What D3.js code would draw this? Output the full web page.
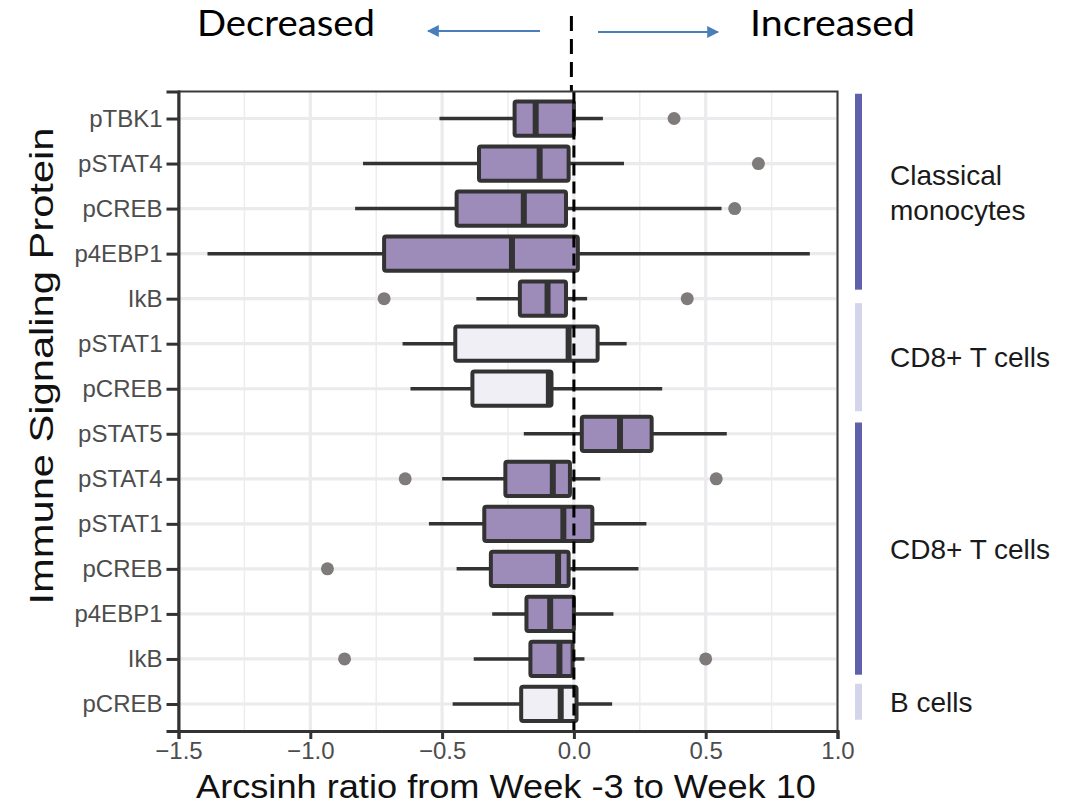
<!DOCTYPE html>
<html>
<head>
<meta charset="utf-8">
<script src="https://cdn.jsdelivr.net/npm/d3@7"></script>
<style>
  body { margin: 0; background: #fff; }
  svg { display: block; }
</style>
</head>
<body>
<div class="container"></div>
<script>
var w = 1071;
var h = 804;

// one entry per row, top to bottom
var proteins = ["pTBK1","pSTAT4","pCREB","p4EBP1","IkB","pSTAT1","pCREB","pSTAT5","pSTAT4","pSTAT1","pCREB","p4EBP1","IkB","pCREB"];
var lowWhisker  = [-0.51,-0.80,-0.83,-1.39,-0.37,-0.65,-0.62,-0.19,-0.50,-0.55,-0.445,-0.31,-0.38,-0.46];
var q1          = [-0.225,-0.36,-0.445,-0.72,-0.205,-0.45,-0.385,0.03,-0.26,-0.34,-0.315,-0.18,-0.165,-0.20];
var medians     = [-0.145,-0.13,-0.19,-0.235,-0.10,-0.02,-0.095,0.175,-0.08,-0.04,-0.06,-0.09,-0.055,-0.05];
var q3          = [0.0,-0.02,-0.03,0.015,-0.03,0.09,-0.085,0.295,-0.015,0.07,-0.02,0.0,-0.005,0.01];
var highWhisker = [0.11,0.19,0.56,0.895,0.05,0.20,0.335,0.58,0.10,0.275,0.245,0.15,0.04,0.145];
var outliers    = [[0.38],[0.70],[0.61],[],[-0.72,0.43],[],[],[],[-0.64,0.54],[],[-0.935],[],[-0.87,0.50],[]];
var lightRow    = [false,false,false,false,false,true,true,false,false,false,false,false,false,true];

var xTicks = [-1.5,-1.0,-0.5,0,0.5,1.0];
var xMinor = [-1.25,-0.75,-0.25,0.25,0.75];

// cell-type brackets on the right, spans in row units
var groupNames = [["Classical","monocytes"],["CD8+ T cells"],["CD8+ T cells"],["B cells"]];
var groupFrom  = [-0.55, 4.1, 6.75, 12.55];
var groupTo    = [3.8, 6.5, 12.35, 13.35];
var groupDark  = [true, false, true, false];

var rows = proteins.map(function(p, i){
  return {i: i, name: p, lo: lowWhisker[i], q1: q1[i], med: medians[i], q3: q3[i], hi: highWhisker[i], out: outliers[i], light: lightRow[i]};
});

var pLeft = 178.5, pRight = 837.5, pTop = 91.5, pBottom = 731;
var purple = "#9d8bb9", pale = "#f0eff6", ink = "#333333";
var sans = "Liberation Sans, Arial, sans-serif";

var x = d3.scaleLinear().domain([-1.5, 1.0]).range([pLeft, pRight]);
var y = d3.scalePoint().domain(d3.range(proteins.length)).range([pTop, pBottom]).padding(0.6);
var step = y.step();
var rowY = d3.scaleLinear().domain([0, 1]).range([y(0), y(1)]);
var boxH = step * 0.76;

var svg = d3.select(".container").append("svg").attr("width", w).attr("height", h);

// grid
var grid = svg.append("g");
grid.selectAll(".minor").data(xMinor).enter().append("line")
  .attr("x1", d => x(d)).attr("x2", d => x(d)).attr("y1", pTop).attr("y2", pBottom)
  .attr("stroke", "#ededf0").attr("stroke-width", 1.5);
grid.selectAll(".major").data(xTicks).enter().append("line")
  .attr("x1", d => x(d)).attr("x2", d => x(d)).attr("y1", pTop).attr("y2", pBottom)
  .attr("stroke", "#ebebee").attr("stroke-width", 3.2);
grid.selectAll(".hrow").data(rows).enter().append("line")
  .attr("x1", pLeft).attr("x2", pRight).attr("y1", d => y(d.i)).attr("y2", d => y(d.i))
  .attr("stroke", "#ebebee").attr("stroke-width", 3.2);

// boxplots
var box = svg.append("g").selectAll("g").data(rows).enter().append("g");
box.append("line")
  .attr("x1", d => x(d.lo)).attr("x2", d => x(d.q1)).attr("y1", d => y(d.i)).attr("y2", d => y(d.i))
  .attr("stroke", ink).attr("stroke-width", 3.5);
box.append("line")
  .attr("x1", d => x(d.q3)).attr("x2", d => x(d.hi)).attr("y1", d => y(d.i)).attr("y2", d => y(d.i))
  .attr("stroke", ink).attr("stroke-width", 3.5);
box.append("rect")
  .attr("x", d => x(d.q1)).attr("width", d => x(d.q3) - x(d.q1))
  .attr("y", d => y(d.i) - boxH / 2).attr("height", boxH)
  .attr("fill", d => d.light ? pale : purple)
  .attr("stroke", ink).attr("stroke-width", 4).attr("rx", 2);
box.append("line")
  .attr("x1", d => x(d.med)).attr("x2", d => x(d.med))
  .attr("y1", d => y(d.i) - boxH / 2).attr("y2", d => y(d.i) + boxH / 2)
  .attr("stroke", ink).attr("stroke-width", 6);
box.selectAll("circle").data(d => d.out.map(v => ({v: v, i: d.i}))).enter().append("circle")
  .attr("cx", d => x(d.v)).attr("cy", d => y(d.i)).attr("r", 6.5)
  .attr("fill", "#7f7b7b");

// zero line
svg.append("line")
  .attr("x1", x(0)).attr("x2", x(0)).attr("y1", pTop).attr("y2", pBottom)
  .attr("stroke", "#000").attr("stroke-width", 3).attr("stroke-dasharray", "12,6");
svg.append("line")
  .attr("x1", x(0) - 2.5).attr("x2", x(0) - 2.5).attr("y1", 16).attr("y2", pTop)
  .attr("stroke", "#000").attr("stroke-width", 3).attr("stroke-dasharray", "15,8");

// panel border
svg.append("rect").attr("x", pLeft).attr("y", pTop).attr("width", pRight - pLeft).attr("height", pBottom - pTop)
  .attr("fill", "none").attr("stroke", "#3a3a3a").attr("stroke-width", 2);

// axes
var xAxis = svg.append("g").attr("transform", "translate(0," + pBottom + ")")
  .call(d3.axisBottom(x).tickValues(xTicks).tickSize(8).tickPadding(3)
    .tickFormat(d => d3.format(".1f")(d).replace("-", "\u2212")));
var yAxis = svg.append("g").attr("transform", "translate(" + pLeft + ",0)")
  .call(d3.axisLeft(y).tickSize(12).tickPadding(4).tickFormat(i => proteins[i]));
[xAxis, yAxis].forEach(function(a){
  a.select(".domain").attr("stroke", ink).attr("stroke-width", 3);
  a.selectAll(".tick line").attr("stroke", ink).attr("stroke-width", 3);
  a.selectAll("text").attr("fill", "#4d4d4d").style("font-family", sans).style("font-size", "24px");
});

svg.append("text").attr("x", (pLeft + pRight) / 2 - 2).attr("y", 798).attr("text-anchor", "middle")
  .attr("textLength", 620).attr("lengthAdjust", "spacingAndGlyphs")
  .style("font-family", sans).style("font-size", "34px").attr("fill", "#111")
  .text("Arcsinh ratio from Week -3 to Week 10");
svg.append("text").attr("transform", "translate(53,366) rotate(-90)").attr("text-anchor", "middle")
  .attr("textLength", 477).attr("lengthAdjust", "spacingAndGlyphs")
  .style("font-family", sans).style("font-size", "34px").attr("fill", "#111")
  .text("Immune Signaling Protein");

// cell type brackets
var groups = groupNames.map(function(n, i){ return {name: n, from: groupFrom[i], to: groupTo[i], dark: groupDark[i]}; });
var gg = svg.append("g").selectAll("g").data(groups).enter().append("g");
gg.append("rect").attr("x", 855).attr("width", 7)
  .attr("y", d => rowY(d.from)).attr("height", d => rowY(d.to) - rowY(d.from))
  .attr("fill", d => d.dark ? "#5f62ab" : "#d4d5ea");
gg.append("text")
  .attr("x", 890)
  .attr("y", d => (rowY(d.from) + rowY(d.to)) / 2 + 10 - (d.name.length - 1) * 17)
  .style("font-family", sans).style("font-size", "28px").attr("fill", "#1a1a1a")
  .selectAll("tspan").data(d => d.name).enter().append("tspan")
  .attr("x", 890).attr("dy", (d, i) => i ? 35 : 0).text(d => d);

// header annotation
svg.append("defs").append("marker").attr("id", "head").attr("viewBox", "0 0 10 10")
  .attr("refX", 9).attr("refY", 5).attr("markerWidth", 6).attr("markerHeight", 6).attr("orient", "auto")
  .append("path").attr("d", "M0,0 L10,5 L0,10 z").attr("fill", "#4a7ebb");
svg.append("line").attr("x1", 540).attr("x2", 428).attr("y1", 31).attr("y2", 31)
  .attr("stroke", "#4a7ebb").attr("stroke-width", 2).attr("marker-end", "url(#head)");
svg.append("line").attr("x1", 598).attr("x2", 718).attr("y1", 32).attr("y2", 32)
  .attr("stroke", "#4a7ebb").attr("stroke-width", 2).attr("marker-end", "url(#head)");
svg.append("text").attr("x", 197).attr("y", 36).attr("textLength", 178).attr("lengthAdjust", "spacingAndGlyphs")
  .style("font-family", "Lato, Open Sans, sans-serif").style("font-size", "36px").attr("fill", "#000")
  .text("Decreased");
svg.append("text").attr("x", 750).attr("y", 36).attr("textLength", 165).attr("lengthAdjust", "spacingAndGlyphs")
  .style("font-family", "Lato, Open Sans, sans-serif").style("font-size", "36px").attr("fill", "#000")
  .text("Increased");
</script>
</body>
</html>
